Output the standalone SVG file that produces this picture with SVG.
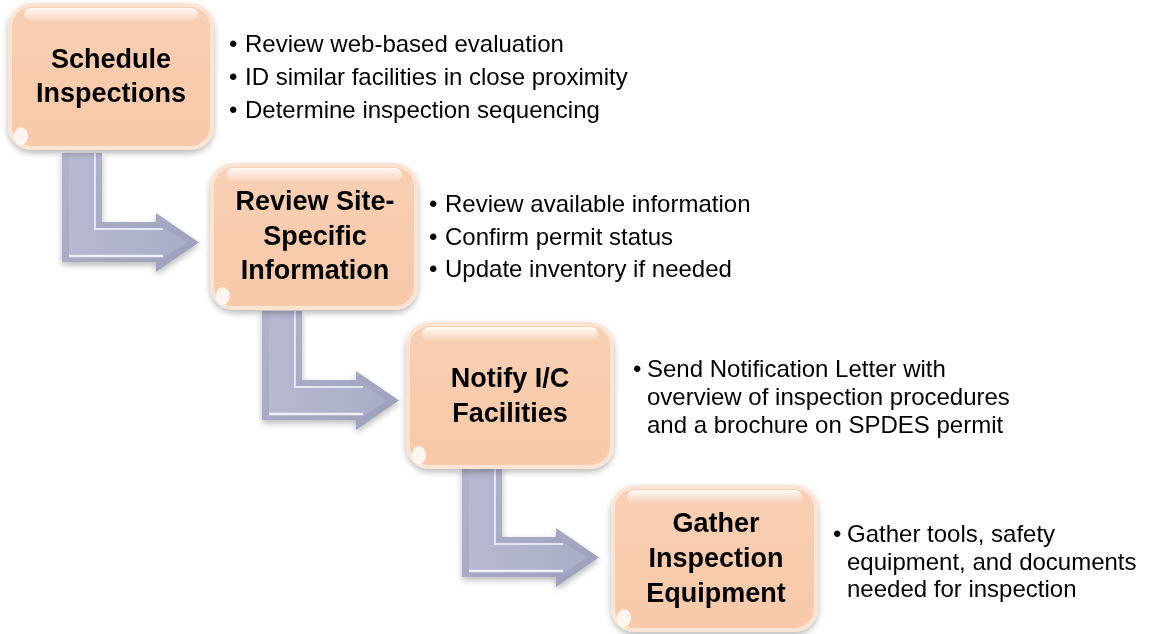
<svg xmlns="http://www.w3.org/2000/svg" xmlns:xlink="http://www.w3.org/1999/xlink" width="1154" height="634" viewBox="0 0 1154 634">
<style>
.title{font-family:"Liberation Sans",Arial,sans-serif;font-weight:bold;font-size:27px;fill:#000;text-anchor:middle}
.bul{font-family:"Liberation Sans",Arial,sans-serif;font-size:24px;fill:#000}
.box{fill:url(#boxGrad);stroke:#FBE4D4;stroke-width:4}
.gloss{fill:url(#glossGrad)}
.spot{fill:#FFFFFF;opacity:0.8}
</style>
<defs>
<linearGradient id="boxGrad" x1="0" y1="0" x2="0" y2="1">
<stop offset="0" stop-color="#F9D0B4"/>
<stop offset="0.5" stop-color="#F8CBAD"/>
<stop offset="1" stop-color="#F8CAAB"/>
</linearGradient>
<linearGradient id="glossGrad" x1="0" y1="0" x2="0" y2="1">
<stop offset="0" stop-color="#FFFFFF" stop-opacity="0.9"/>
<stop offset="1" stop-color="#FFFFFF" stop-opacity="0"/>
</linearGradient>
<linearGradient id="arrOuter" x1="0" y1="0" x2="1" y2="1">
<stop offset="0" stop-color="#B2B5CD"/>
<stop offset="1" stop-color="#9CA0BC"/>
</linearGradient>
<linearGradient id="arrInner" x1="0" y1="0" x2="1" y2="0">
<stop offset="0" stop-color="#B6B9D0"/>
<stop offset="1" stop-color="#A9ADC7"/>
</linearGradient>
<filter id="shadow" x="-10%" y="-10%" width="125%" height="130%">
<feDropShadow dx="0" dy="3" stdDeviation="3" flood-color="#000" flood-opacity="0.28"/>
</filter>
<g id="bentArrow">
<path d="M0,0 H40 V69 H94 V60 L137,89.5 L94,119 V109 H0 Z" fill="url(#arrOuter)"/>
<path d="M7,0 H33 V76 H101 V74 L125,89.5 L101,105 V102 H7 Z" fill="url(#arrInner)"/>
<path d="M33,0 V76 H101" fill="none" stroke="#E4E6F1" stroke-width="2"/>
<path d="M7,103 H101" fill="none" stroke="#EEF0F7" stroke-width="2.5"/>
</g>
</defs>

<g id="connectors" filter="url(#shadow)">
<use xlink:href="#bentArrow" transform="translate(62,153)"/>
<use xlink:href="#bentArrow" transform="translate(262,311)"/>
<use xlink:href="#bentArrow" transform="translate(462,468)"/>
</g>

<g id="node1">
<rect class="box" x="10" y="5" width="202" height="143" rx="22" filter="url(#shadow)"/>
<rect class="gloss" x="24" y="8" width="174" height="14" rx="7"/>
<ellipse class="spot" cx="21" cy="136" rx="7" ry="9"/>
<text class="title" x="111" y="68">Schedule</text>
<text class="title" x="111" y="102">Inspections</text>
</g>
<g id="node1-text">
<text class="bul"><tspan x="229" y="52">•</tspan><tspan x="245" y="52">Review web-based evaluation</tspan></text>
<text class="bul"><tspan x="229" y="85">•</tspan><tspan x="245" y="85">ID similar facilities in close proximity</tspan></text>
<text class="bul"><tspan x="229" y="118">•</tspan><tspan x="245" y="118">Determine inspection sequencing</tspan></text>
</g>

<g id="node2">
<rect class="box" x="212" y="165" width="204" height="143" rx="22" filter="url(#shadow)"/>
<rect class="gloss" x="226" y="168" width="176" height="14" rx="7"/>
<ellipse class="spot" cx="223" cy="296" rx="7" ry="9"/>
<text class="title" x="315" y="210">Review Site-</text>
<text class="title" x="315" y="245">Specific</text>
<text class="title" x="315" y="279">Information</text>
</g>
<g id="node2-text">
<text class="bul"><tspan x="429" y="212">•</tspan><tspan x="445" y="212">Review available information</tspan></text>
<text class="bul"><tspan x="429" y="245">•</tspan><tspan x="445" y="245">Confirm permit status</tspan></text>
<text class="bul"><tspan x="429" y="277">•</tspan><tspan x="445" y="277">Update inventory if needed</tspan></text>
</g>

<g id="node3">
<rect class="box" x="408" y="324" width="204" height="143" rx="22" filter="url(#shadow)"/>
<rect class="gloss" x="422" y="327" width="176" height="14" rx="7"/>
<ellipse class="spot" cx="419" cy="455" rx="7" ry="9"/>
<text class="title" x="510" y="387">Notify I/C</text>
<text class="title" x="510" y="422">Facilities</text>
</g>
<g id="node3-text">
<text class="bul"><tspan x="633" y="377">•</tspan><tspan x="647" y="377">Send Notification Letter with</tspan></text>
<text class="bul" x="647" y="405">overview of inspection procedures</text>
<text class="bul" x="647" y="433">and a brochure on SPDES permit</text>
</g>

<g id="node4">
<rect class="box" x="613" y="487" width="203" height="143" rx="22" filter="url(#shadow)"/>
<rect class="gloss" x="627" y="490" width="175" height="14" rx="7"/>
<ellipse class="spot" cx="624" cy="618" rx="7" ry="9"/>
<text class="title" x="716" y="532">Gather</text>
<text class="title" x="716" y="567">Inspection</text>
<text class="title" x="716" y="602">Equipment</text>
</g>
<g id="node4-text">
<text class="bul"><tspan x="833" y="542">•</tspan><tspan x="847" y="542">Gather tools, safety</tspan></text>
<text class="bul" x="847" y="570">equipment, and documents</text>
<text class="bul" x="847" y="597">needed for inspection</text>
</g>
</svg>
